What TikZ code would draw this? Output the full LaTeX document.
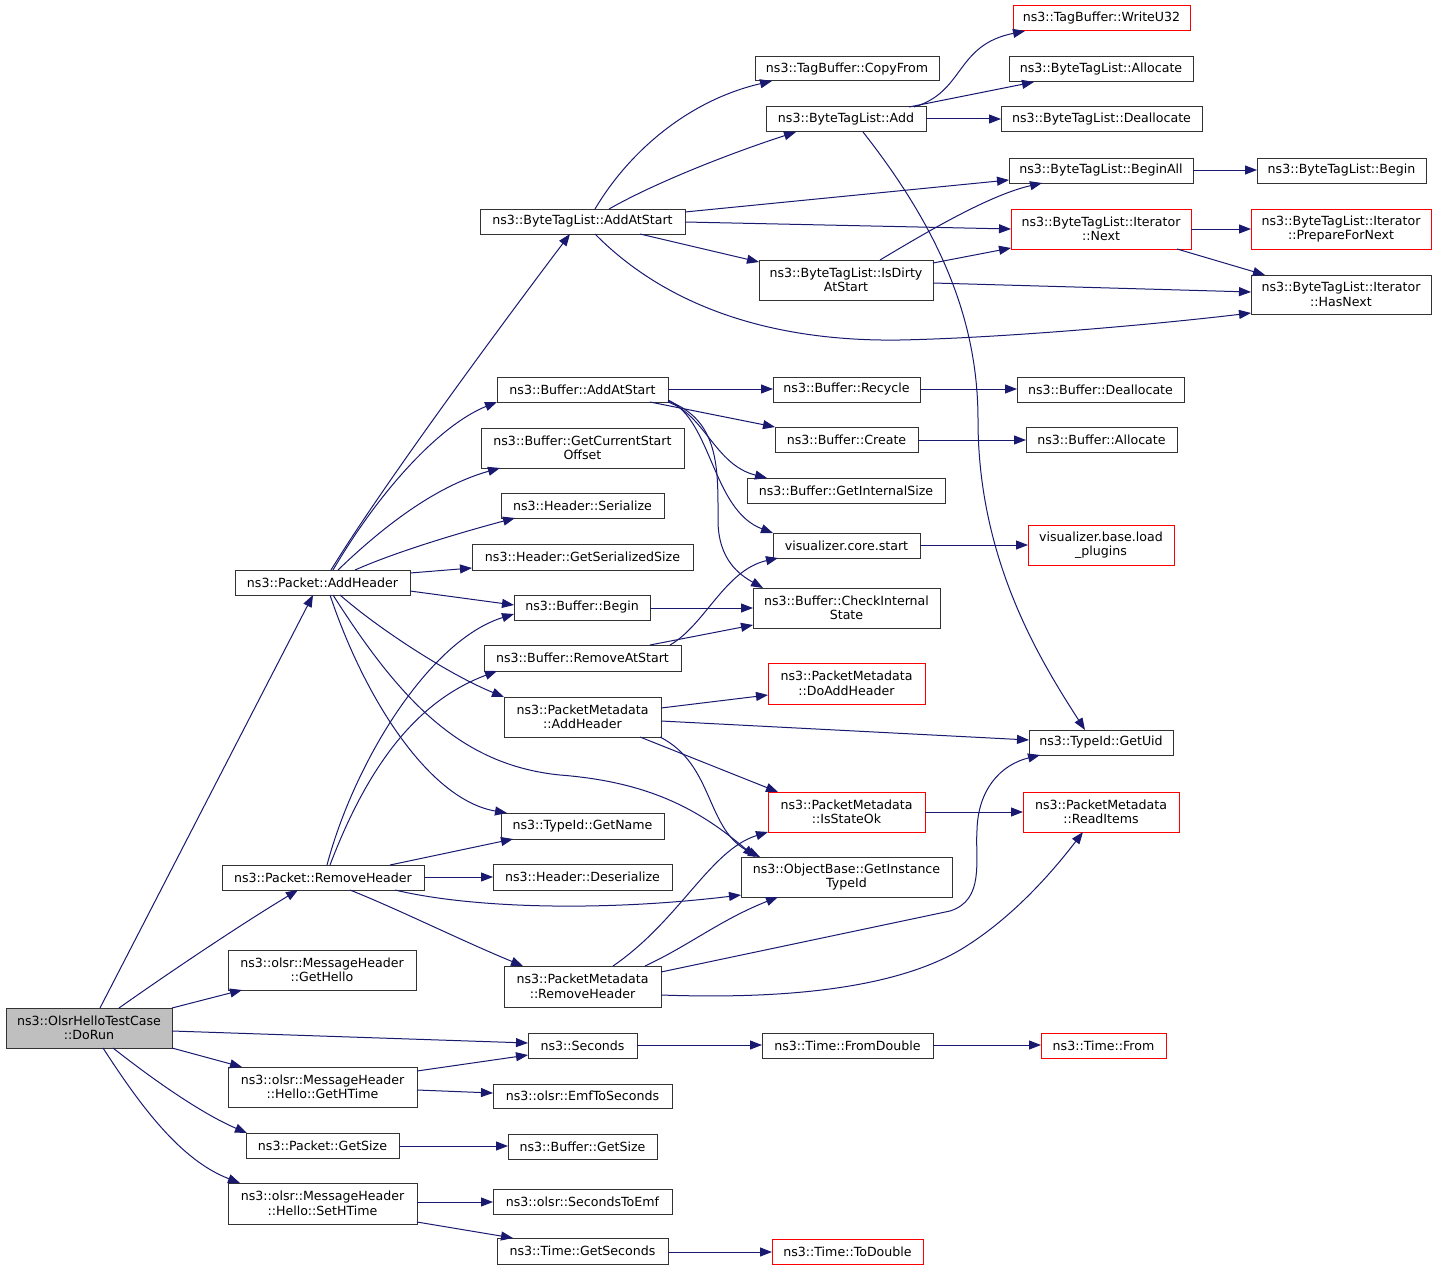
\documentclass[tikz,border=0pt]{standalone}
\usepackage{fontspec}
\setmainfont{DejaVu Sans}
\usetikzlibrary{arrows.meta}
\definecolor{midnight}{HTML}{191970}
\definecolor{nodegray}{HTML}{BFBFBF}
\newcommand\nd[7][]{\node[box,#1,minimum width={#5pt-#3pt},minimum height={#6pt-#4pt}] (#2) at ({(#3+#5)/2},{(#4+#6)/2}) {#7};}
\begin{document}
\begin{tikzpicture}[x=1pt,y=-1pt,
  box/.style={draw=black!80,line width=1pt,fill=white,inner sep=0pt,outer sep=0pt,align=center,
    font=\fontsize{12.6}{14.5}\selectfont},
  redbox/.style={draw=red},
  graybox/.style={fill=nodegray},
  e/.style={draw=midnight,line width=1pt,-{Triangle[length=12pt,width=9pt,fill=midnight]}}]
\fill[white] (0,0) rectangle (1437,1271);
\useasboundingbox (0,0) rectangle (1437,1271);
% nodes
\nd[graybox]{dorun}{6}{1008}{172}{1048}{ns3::OlsrHelloTestCase\\::DoRun}
\nd{addh}{235}{570}{410}{595}{ns3::Packet::AddHeader}
\nd{remh}{222}{865}{424}{890}{ns3::Packet::RemoveHeader}
\nd{gethello}{228}{950}{416}{990}{ns3::olsr::MessageHeader\\::GetHello}
\nd{gethtime}{228}{1067}{417}{1107}{ns3::olsr::MessageHeader\\::Hello::GetHTime}
\nd{pgetsize}{246}{1133}{399}{1158}{ns3::Packet::GetSize}
\nd{sethtime}{228}{1183}{417}{1224}{ns3::olsr::MessageHeader\\::Hello::SetHTime}
\nd{btaddstart}{480}{209}{685}{234}{ns3::ByteTagList::AddAtStart}
\nd{baddstart}{497}{377}{668}{402}{ns3::Buffer::AddAtStart}
\nd{bcso}{481}{428}{684}{468}{ns3::Buffer::GetCurrentStart\\Offset}
\nd{hser}{501}{493}{664}{518}{ns3::Header::Serialize}
\nd{hgss}{472}{544}{693}{570}{ns3::Header::GetSerializedSize}
\nd{bbegin}{514}{595}{650}{620}{ns3::Buffer::Begin}
\nd{bras}{484}{645}{681}{671}{ns3::Buffer::RemoveAtStart}
\nd{pmadd}{504}{697}{661}{737}{ns3::PacketMetadata\\::AddHeader}
\nd{getname}{501}{813}{664}{839}{ns3::TypeId::GetName}
\nd{hdeser}{493}{864}{672}{890}{ns3::Header::Deserialize}
\nd{pmrem}{504}{966}{661}{1007}{ns3::PacketMetadata\\::RemoveHeader}
\nd{seconds}{528}{1033}{637}{1058}{ns3::Seconds}
\nd{emftos}{493}{1084}{672}{1108}{ns3::olsr::EmfToSeconds}
\nd{bgetsize}{508}{1134}{657}{1159}{ns3::Buffer::GetSize}
\nd{stoemf}{493}{1189}{672}{1214}{ns3::olsr::SecondsToEmf}
\nd{getsec}{497}{1238}{668}{1264}{ns3::Time::GetSeconds}
\nd{copyfrom}{755}{57}{939}{81}{ns3::TagBuffer::CopyFrom}
\nd{btadd}{766}{107}{926}{132}{ns3::ByteTagList::Add}
\nd{isdirty}{759}{260}{933}{300}{ns3::ByteTagList::IsDirty\\AtStart}
\nd{recycle}{773}{377}{920}{402}{ns3::Buffer::Recycle}
\nd{create}{775}{427}{918}{452}{ns3::Buffer::Create}
\nd{gis}{747}{478}{945}{503}{ns3::Buffer::GetInternalSize}
\nd{vstart}{773}{533}{920}{558}{visualizer.core.start}
\nd{cis}{753}{588}{940}{628}{ns3::Buffer::CheckInternal\\State}
\nd[redbox]{doadd}{768}{663}{925}{704}{ns3::PacketMetadata\\::DoAddHeader}
\nd[redbox]{isok}{768}{792}{925}{832}{ns3::PacketMetadata\\::IsStateOk}
\nd{gitid}{741}{857}{952}{897}{ns3::ObjectBase::GetInstance\\TypeId}
\nd{fromdouble}{762}{1033}{933}{1058}{ns3::Time::FromDouble}
\nd[redbox]{todouble}{772}{1239}{923}{1264}{ns3::Time::ToDouble}
\nd[redbox]{writeu}{1013}{6}{1190}{31}{ns3::TagBuffer::WriteU32}
\nd{btalloc}{1009}{57}{1193}{82}{ns3::ByteTagList::Allocate}
\nd{btdealloc}{1001}{107}{1202}{132}{ns3::ByteTagList::Deallocate}
\nd{beginall}{1009}{158}{1193}{183}{ns3::ByteTagList::BeginAll}
\nd[redbox]{itnext}{1011}{209}{1191}{249}{ns3::ByteTagList::Iterator\\::Next}
\nd{bdealloc}{1017}{377}{1184}{402}{ns3::Buffer::Deallocate}
\nd{balloc}{1026}{427}{1177}{452}{ns3::Buffer::Allocate}
\nd[redbox]{loadpl}{1028}{525}{1174}{565}{visualizer.base.load\\\_plugins}
\nd{getuid}{1029}{730}{1173}{755}{ns3::TypeId::GetUid}
\nd[redbox]{readitems}{1023}{792}{1179}{832}{ns3::PacketMetadata\\::ReadItems}
\nd[redbox]{timefrom}{1041}{1033}{1166}{1058}{ns3::Time::From}
\nd{btbegin}{1257}{158}{1426}{183}{ns3::ByteTagList::Begin}
\nd[redbox]{prepnext}{1251}{209}{1431}{249}{ns3::ByteTagList::Iterator\\::PrepareForNext}
\nd{hasnext}{1251}{275}{1431}{314}{ns3::ByteTagList::Iterator\\::HasNext}
% edges from DoRun
\draw[e] (dorun.north -| 100,0) -- (addh.south -| 313,0);
\draw[e] (dorun.north -| 119,0) .. controls (170,972) and (240,925) .. (remh.south -| 298,0);
\draw[e] (dorun.north east) -- (gethello.south -| 242,0);
\draw[e] (dorun.east |- 0,1031) -- (seconds.west |- 0,1043);
\draw[e] (dorun.south east) -- (gethtime.north -| 242,0);
\draw[e] (dorun.south -| 113,0) .. controls (160,1085) and (205,1115) .. (pgetsize.north -| 247,0);
\draw[e] (dorun.south -| 103,0) .. controls (140,1105) and (180,1160) .. (sethtime.north -| 240,0);
% edges from Packet::AddHeader
\draw[e] (addh.north -| 331,0) .. controls (380,490) and (490,340) .. (btaddstart.south -| 570,0);
\draw[e] (addh.north -| 333,0) .. controls (380,490) and (440,425) .. (baddstart.south west);
\draw[e] (addh.north -| 338,0) .. controls (390,520) and (440,485) .. (bcso.south -| 500,0);
\draw[e] (addh.north -| 355,0) .. controls (400,550) and (470,530) .. (hser.south -| 515,0);
\draw[e] (addh.east |- 0,573) -- (hgss.west |- 0,568);
\draw[e] (addh.east |- 0,591) -- (bbegin.west |- 0,605);
\draw[e] (addh.south -| 340,0) .. controls (380,630) and (450,675) .. (pmadd.north west);
\draw[e] (addh.south -| 333,0) .. controls (400,700) and (460,765) .. (560,775) .. controls (650,782) and (700,810) .. (gitid.north -| 755,0);
\draw[e] (addh.south -| 330,0) .. controls (365,700) and (430,800) .. (getname.north -| 507,0);
% edges from Packet::RemoveHeader
\draw[e] (remh.north -| 327,0) .. controls (355,760) and (430,640) .. (bbegin.west |- 0,614);
\draw[e] (remh.north -| 330,0) .. controls (370,760) and (420,700) .. (bras.south -| 497,0);
\draw[e] (remh.north -| 390,0) -- (getname.south -| 513,0);
\draw[e] (remh.east |- 0,877) -- (hdeser.west |- 0,877);
\draw[e] (remh.south -| 395,0) .. controls (470,908) and (600,912) .. (gitid.west |- 0,895);
\draw[e] (remh.south -| 350,0) .. controls (400,910) and (460,940) .. (pmrem.north -| 523,0);
% olsr header edges
\draw[e] (gethtime.east |- 0,1071) -- (seconds.west |- 0,1055);
\draw[e] (gethtime.east |- 0,1090) -- (emftos.west |- 0,1093);
\draw[e] (pgetsize.east |- 0,1146) -- (bgetsize.west |- 0,1146);
\draw[e] (sethtime.east |- 0,1202) -- (stoemf.west |- 0,1202);
\draw[e] (sethtime.east |- 0,1222) -- (getsec.north -| 513,0);
\draw[e] (seconds.east |- 0,1045) -- (fromdouble.west |- 0,1045);
\draw[e] (fromdouble.east |- 0,1045) -- (timefrom.west |- 0,1045);
\draw[e] (getsec.east |- 0,1252) -- (todouble.west |- 0,1252);
% ByteTagList::AddAtStart
\draw[e] (btaddstart.north -| 595,0) .. controls (630,150) and (690,100) .. (copyfrom.south -| 772,0);
\draw[e] (btaddstart.north -| 609,0) .. controls (660,180) and (740,150) .. (btadd.south -| 796,0);
\draw[e] (btaddstart.east |- 0,212) -- (beginall.west |- 0,180);
\draw[e] (btaddstart.east |- 0,222) -- (itnext.west |- 0,229);
\draw[e] (btaddstart.south -| 640,0) -- (isdirty.west |- 0,262);
\draw[e] (btaddstart.south -| 595,0) .. controls (660,300) and (760,342) .. (900,340) .. controls (1000,338) and (1150,325) .. (hasnext.west |- 0,313);
% ByteTagList::Add
\draw[e] (btadd.north -| 914,0) .. controls (965,92) and (955,45) .. (writeu.south -| 1025,0);
\draw[e] (btadd.north -| 909,0) -- (btalloc.south -| 1034,0);
\draw[e] (btadd.east |- 0,119) -- (btdealloc.west |- 0,119);
\draw[e] (btadd.south -| 863,0) .. controls (940,230) and (978,320) .. (978,420) .. controls (978,560) and (1040,660) .. (getuid.north -| 1085,0);
% IsDirtyAtStart
\draw[e] (isdirty.north -| 880,0) .. controls (930,230) and (990,195) .. (beginall.south -| 1042,0);
\draw[e] (isdirty.east |- 0,263) -- (itnext.west |- 0,248);
\draw[e] (isdirty.east |- 0,283) -- (hasnext.west |- 0,292);
\draw[e] (beginall.east |- 0,170) -- (btbegin.west |- 0,170);
\draw[e] (itnext.east |- 0,229) -- (prepnext.west |- 0,229);
\draw[e] (itnext.south -| 1177,0) -- (hasnext.north -| 1265,0);
% Buffer::AddAtStart
\draw[e] (baddstart.east |- 0,389) -- (recycle.west |- 0,389);
\draw[e] (baddstart.south -| 650,0) -- (create.north west);
\draw[e] (baddstart.south east) .. controls (705,415) and (715,465) .. (gis.north -| 767,0);
\draw[e] (baddstart.east |- 0,400) .. controls (712,420) and (712,510) .. (vstart.north west);
\draw[e] (baddstart.east |- 0,401) .. controls (720,420) and (718,470) .. (718,520) .. controls (718,560) and (740,575) .. (cis.north -| 763,0);
\draw[e] (recycle.east |- 0,389) -- (bdealloc.west |- 0,389);
\draw[e] (create.east |- 0,440) -- (balloc.west |- 0,440);
\draw[e] (vstart.east |- 0,545) -- (loadpl.west |- 0,545);
\draw[e] (bbegin.east |- 0,608) -- (cis.west |- 0,608);
\draw[e] (bras.north -| 670,0) .. controls (705,625) and (725,570) .. (vstart.south -| 778,0);
\draw[e] (bras.north -| 650,0) -- (cis.west |- 0,625);
% PacketMetadata::AddHeader
\draw[e] (pmadd.east |- 0,708) -- (doadd.west |- 0,695);
\draw[e] (pmadd.east |- 0,721) -- (getuid.west |- 0,740);
\draw[e] (pmadd.south -| 640,0) -- (isok.north -| 778,0);
\draw[e] (pmadd.south -| 660,0) .. controls (715,765) and (705,830) .. (gitid.north -| 760,0);
% PacketMetadata::RemoveHeader
\draw[e] (pmrem.north -| 613,0) .. controls (680,920) and (710,850) .. (isok.south west);
\draw[e] (pmrem.north -| 645,0) .. controls (690,945) and (720,920) .. (gitid.south -| 778,0);
\draw[e] (pmrem.east |- 0,972) -- (950,911) .. controls (985,900) and (975,860) .. (977,830) .. controls (978,790) and (1000,765) .. (getuid.south -| 1040,0);
\draw[e] (pmrem.east |- 0,995) .. controls (800,1000) and (900,985) .. (960,950) .. controls (1010,920) and (1050,875) .. (readitems.south -| 1083,0);
\draw[e] (isok.east |- 0,812) -- (readitems.west |- 0,812);
\end{tikzpicture}
\end{document}
